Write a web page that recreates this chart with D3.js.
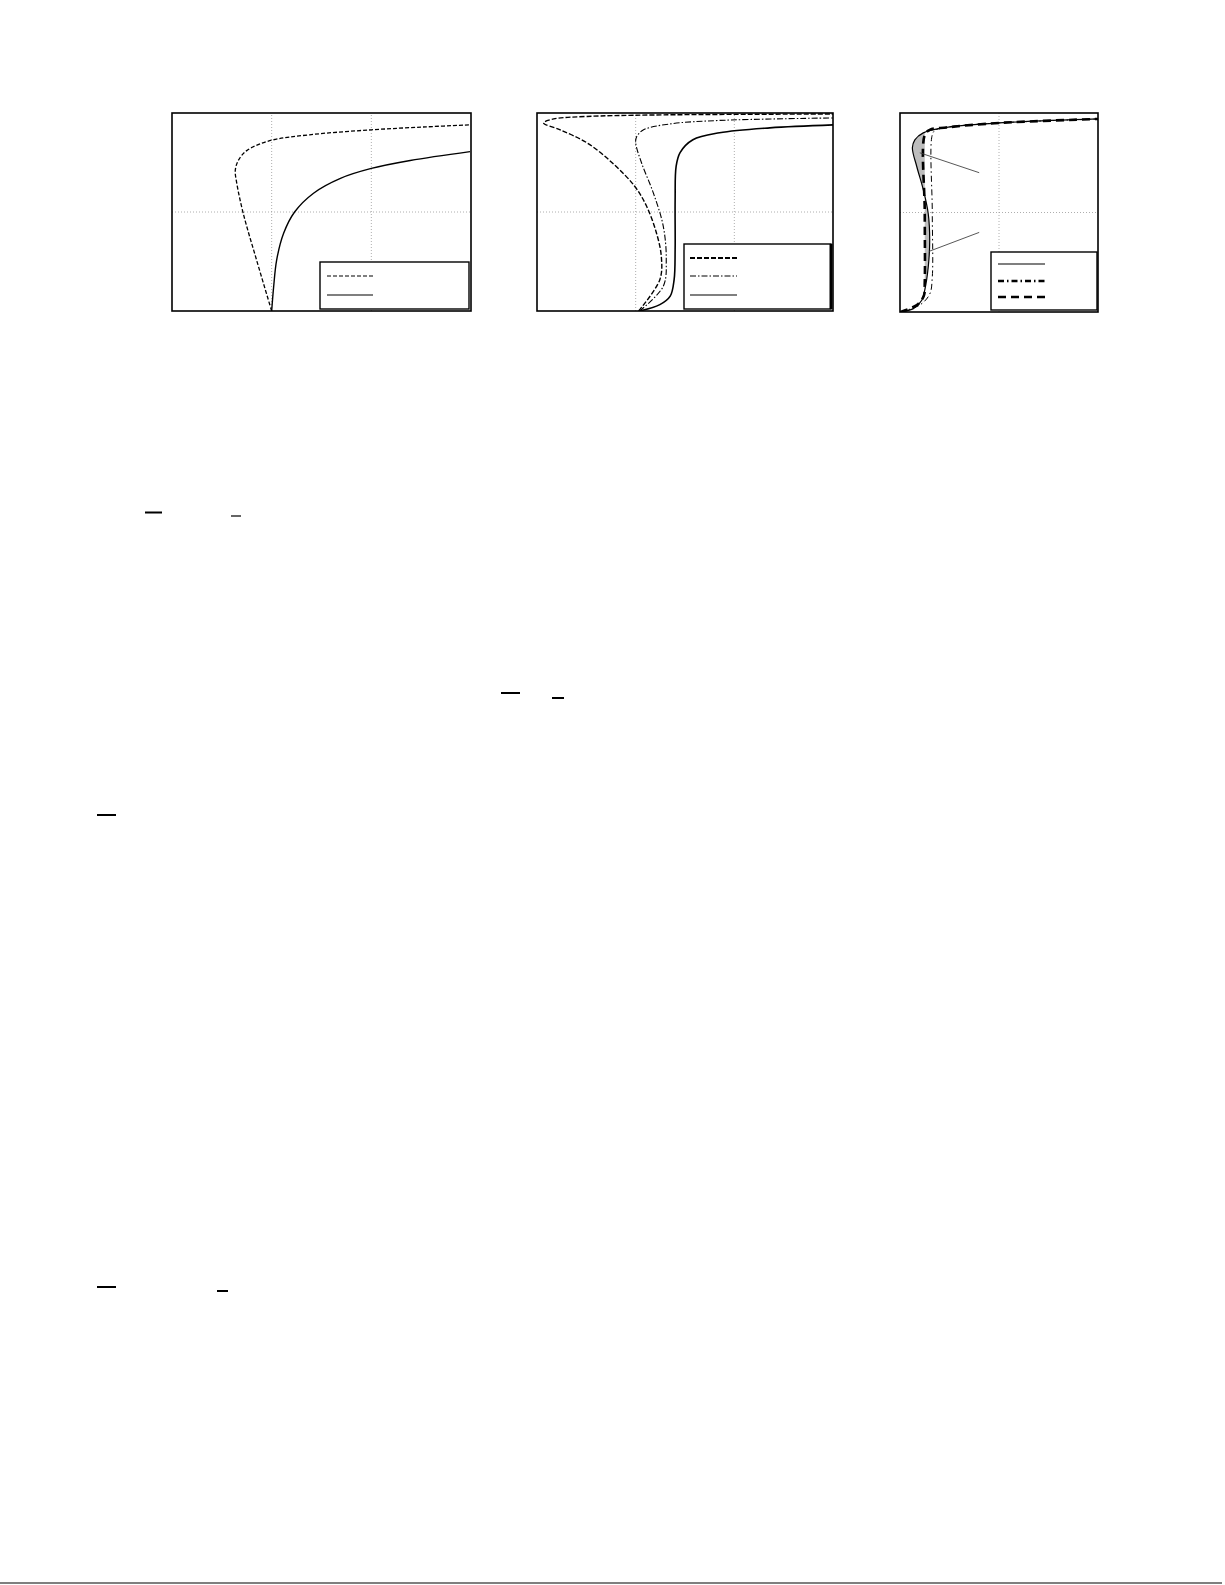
<!DOCTYPE html>
<html>
<head>
<meta charset="utf-8">
<script src="https://cdn.jsdelivr.net/npm/d3@7"></script>
<style>
  body { margin: 0; background: #fff; }
  svg { display: block; }
</style>
</head>
<body>
<svg id="page"></svg>
<script>
// panel 1 profiles [u, v]
const p1Dashed = [[1.0,0],[0.85,0.51],[0.715,0.985],[0.65,1.29],[0.635,1.42],[0.665,1.52],[0.75,1.62],[0.98,1.72],[1.38,1.78],[2.0,1.83],[2.55,1.86],[2.99,1.88]];
const p1Solid = [[1.0,0],[1.02,0.245],[1.05,0.515],[1.12,0.785],[1.23,1.0],[1.42,1.19],[1.69,1.34],[2.0,1.44],[2.39,1.52],[2.99,1.61]];

// panel 2 profiles
const p2Dashed = [[1.03,0],[1.245,0.316],[1.26,0.55],[1.21,0.79],[1.11,1.06],[0.99,1.26],[0.77,1.49],[0.505,1.70],[0.235,1.83],[0.067,1.90],[0.17,1.94],[0.505,1.965],[1.18,1.98],[3.0,1.99]];
const p2DashDot = [[1.04,0],[1.28,0.25],[1.31,0.52],[1.28,0.855],[1.18,1.19],[1.06,1.495],[1.0,1.70],[1.01,1.76],[1.08,1.83],[1.35,1.89],[1.85,1.925],[3.0,1.95]];
const p2Solid = [[1.04,0],[1.245,0.064],[1.35,0.15],[1.39,0.32],[1.40,0.62],[1.40,1.12],[1.41,1.46],[1.45,1.60],[1.58,1.73],[1.85,1.80],[2.36,1.85],[3.0,1.88]];

// panel 3 profiles
const p3Solid = [[0,0],[0.135,0.034],[0.22,0.118],[0.25,0.22],[0.285,0.45],[0.30,0.72],[0.285,0.99],[0.235,1.23],[0.17,1.46],[0.125,1.65],[0.15,1.73],[0.235,1.80],[0.47,1.855],[1.0,1.90],[2.0,1.94]];
const p3DashDot = [[0,0],[0.2,0.07],[0.3,0.18],[0.326,0.35],[0.326,1.0],[0.326,1.78],[0.36,1.83],[0.5,1.86],[1.0,1.90],[2.0,1.94]];
const p3Dashed = [[0,0],[0.17,0.07],[0.24,0.16],[0.25,0.3],[0.25,1.0],[0.25,1.78],[0.3,1.83],[0.47,1.855],[1.0,1.90],[2.0,1.94]];
const p3Shade = [[0.25,0.2],[0.285,0.45],[0.30,0.72],[0.285,0.99],[0.235,1.23],[0.17,1.46],[0.125,1.65],[0.15,1.73],[0.235,1.80],[0.25,1.81]];
const p3Pointers = [[[0.2,1.6],[0.8,1.40]],[[0.295,0.61],[0.8,0.80]]];

const W = 1225, H = 1585;
const svg = d3.select("#page").attr("width", W).attr("height", H);

const panels = [
  { x: [0,3], xr: [172,471], y: [0,2], yr: [311,113], gx: [1,2], gy: [1],
    legend: { x: 320, y: 262, w: 149, h: 47, sx: 327, sw: 46, rows: [276, 295] },
    series: [
      { data: p1Dashed, dash: "4,2", w: 1.3, lw: 1.2 },
      { data: p1Solid, dash: null, w: 1.4, lw: 1.2 }
    ] },
  { x: [0,3], xr: [537,833], y: [0,2], yr: [311,113], gx: [1,2], gy: [1],
    legend: { x: 684, y: 244, w: 147, h: 65, sx: 690, sw: 47, rows: [258, 276, 295] },
    series: [
      { data: p2Dashed, dash: "5,2", w: 1.4, lw: 2.2 },
      { data: p2DashDot, dash: "6,2,1.5,2", w: 1.1, lw: 1.1 },
      { data: p2Solid, dash: null, w: 1.6, lw: 1.2 }
    ] },
  { x: [0,2], xr: [900,1098], y: [0,2], yr: [312,113], gx: [1], gy: [1],
    legend: { x: 991, y: 252, w: 106, h: 58, sx: 998, sw: 47, rows: [264, 281, 297] },
    series: [
      { data: p3Solid, dash: null, w: 1.2, lw: 1.1 },
      { data: p3DashDot, dash: "6,3,1.5,3", w: 1.0, lw: 2.4 },
      { data: p3Dashed, dash: "8,5", w: 2.6, lw: 2.6 }
    ] }
];

panels.forEach(function (p, i) {
  const xs = d3.scaleLinear().domain(p.x).range(p.xr);
  const ys = d3.scaleLinear().domain(p.y).range(p.yr);
  const g = svg.append("g").attr("class", "panel");

  // dotted grid
  g.selectAll(".gx").data(p.gx).enter().append("line")
    .attr("x1", d => xs(d)).attr("x2", d => xs(d))
    .attr("y1", ys(p.y[0])).attr("y2", ys(p.y[1]))
    .attr("stroke", "#999").attr("stroke-width", 0.8).attr("stroke-dasharray", "1,2");
  g.selectAll(".gy").data(p.gy).enter().append("line")
    .attr("y1", d => ys(d)).attr("y2", d => ys(d))
    .attr("x1", xs(p.x[0])).attr("x2", xs(p.x[1]))
    .attr("stroke", "#999").attr("stroke-width", 0.8).attr("stroke-dasharray", "1,2");

  if (i === 2) {
    const area = d3.area()
      .y(d => ys(d[1]))
      .x0(xs(0.25))
      .x1(d => xs(d[0]))
      .curve(d3.curveCatmullRom);
    g.append("path").attr("d", area(p3Shade)).attr("fill", "#bdbdbd").attr("stroke", "none");
  }

  const line = d3.line().x(d => xs(d[0])).y(d => ys(d[1])).curve(d3.curveCatmullRom.alpha(0.5));
  const clipId = "clip" + i;
  svg.append("clipPath").attr("id", clipId).append("rect")
    .attr("x", p.xr[0]).attr("y", p.yr[1]).attr("width", p.xr[1] - p.xr[0]).attr("height", p.yr[0] - p.yr[1]);

  g.selectAll(".curve").data(p.series).enter().append("path")
    .attr("class", "curve")
    .attr("clip-path", "url(#" + clipId + ")")
    .attr("d", d => line(d.data))
    .attr("fill", "none")
    .attr("stroke", "#000")
    .attr("stroke-width", d => d.w)
    .attr("stroke-dasharray", d => d.dash);

  if (i === 2) {
    g.selectAll(".ptr").data(p3Pointers).enter().append("line")
      .attr("x1", d => xs(d[0][0])).attr("y1", d => ys(d[0][1]))
      .attr("x2", d => xs(d[1][0])).attr("y2", d => ys(d[1][1]))
      .attr("stroke", "#444").attr("stroke-width", 0.9);
  }

  // frame
  g.append("rect")
    .attr("x", p.xr[0]).attr("y", p.yr[1])
    .attr("width", p.xr[1] - p.xr[0]).attr("height", p.yr[0] - p.yr[1])
    .attr("fill", "none").attr("stroke", "#000").attr("stroke-width", 1.6);

  // legend (no labels in the original)
  const L = p.legend;
  g.append("rect").attr("x", L.x).attr("y", L.y).attr("width", L.w).attr("height", L.h)
    .attr("fill", "#fff").attr("stroke", "#000").attr("stroke-width", 1.4);
  g.selectAll(".leg").data(p.series).enter().append("line")
    .attr("x1", L.sx).attr("x2", L.sx + L.sw)
    .attr("y1", (d, k) => L.rows[k]).attr("y2", (d, k) => L.rows[k])
    .attr("stroke", "#000")
    .attr("stroke-width", d => d.lw)
    .attr("stroke-dasharray", d => d.dash);
  if (i === 1) {
    g.append("line").attr("x1", 831).attr("x2", 831).attr("y1", L.y).attr("y2", L.y + L.h)
      .attr("stroke", "#000").attr("stroke-width", 3);
  }
});

// leftover overbars from the page text
const bars = [
  { x: 145, y: 512.5, w: 17, t: 2 }, { x: 231, y: 516, w: 10, t: 1.2 },
  { x: 501, y: 693, w: 19, t: 2 }, { x: 552, y: 698, w: 12, t: 2 },
  { x: 97, y: 815, w: 19, t: 2 }, { x: 97, y: 1287, w: 19, t: 2 },
  { x: 217, y: 1291, w: 11, t: 2 }
];
svg.selectAll(".bar").data(bars).enter().append("rect")
  .attr("x", d => d.x).attr("y", d => d.y - d.t / 2)
  .attr("width", d => d.w).attr("height", d => d.t).attr("fill", "#000");

svg.append("line").attr("x1", 0).attr("x2", 1222).attr("y1", 1583).attr("y2", 1583)
  .attr("stroke", "#000").attr("stroke-width", 1.2);
</script>
</body>
</html>
